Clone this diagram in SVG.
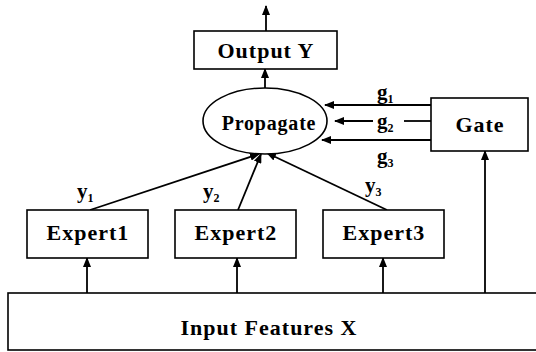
<svg xmlns="http://www.w3.org/2000/svg" width="536" height="352" viewBox="0 0 536 352">
<style>
.box{fill:#fff;stroke:#000;stroke-width:1.6}
.lbl{font-family:"Liberation Serif","Times New Roman",serif;font-weight:bold;fill:#000}
.big{font-size:22px;letter-spacing:1px}
.mid{font-size:20px;letter-spacing:0.8px}
.sym{font-size:21px}
.sub{font-size:12px}
.ln{stroke:#000;stroke-width:1.8;fill:none}
</style>
<defs>
<marker id="arr" markerUnits="userSpaceOnUse" markerWidth="10" markerHeight="8" refX="9" refY="4" orient="auto">
<path d="M0,0 L10,4 L0,8 Z" fill="#000"/>
</marker>
</defs>
<rect width="536" height="352" fill="#fff"/>
<g id="connectors">
<line class="ln" x1="266" y1="31" x2="266" y2="6" marker-end="url(#arr)"/>
<line class="ln" x1="265" y1="88" x2="265" y2="69" marker-end="url(#arr)"/>
<line class="ln" x1="431" y1="105" x2="325" y2="105" marker-end="url(#arr)"/>
<line class="ln" x1="431" y1="121" x2="404" y2="121"/>
<line class="ln" x1="373" y1="121" x2="335" y2="121" marker-end="url(#arr)"/>
<line class="ln" x1="431" y1="140" x2="322" y2="140" marker-end="url(#arr)"/>
<line class="ln" x1="90" y1="210" x2="259" y2="154" marker-end="url(#arr)"/>
<line class="ln" x1="238" y1="210" x2="261" y2="154" marker-end="url(#arr)"/>
<line class="ln" x1="387" y1="210" x2="267" y2="153" marker-end="url(#arr)"/>
<line class="ln" x1="87" y1="293" x2="87" y2="258" marker-end="url(#arr)"/>
<line class="ln" x1="237" y1="293" x2="237" y2="258" marker-end="url(#arr)"/>
<line class="ln" x1="383" y1="293" x2="383" y2="258" marker-end="url(#arr)"/>
<line class="ln" x1="485" y1="293" x2="485" y2="151" marker-end="url(#arr)"/>
<text class="lbl sym" x="377" y="99">g<tspan class="sub" dy="4">1</tspan></text>
<text class="lbl sym" x="377" y="128">g<tspan class="sub" dy="4">2</tspan></text>
<text class="lbl sym" x="377" y="163">g<tspan class="sub" dy="4">3</tspan></text>
<text class="lbl sym" x="77" y="198">y<tspan class="sub" dy="4">1</tspan></text>
<text class="lbl sym" x="203" y="198">y<tspan class="sub" dy="4">2</tspan></text>
<text class="lbl sym" x="365" y="192">y<tspan class="sub" dy="4">3</tspan></text>
</g>
<g id="output">
<rect class="box" x="194" y="31" width="143" height="38"/>
<text class="lbl big" x="266" y="58" text-anchor="middle">Output Y</text>
</g>
<g id="propagate">
<ellipse class="box" cx="265" cy="121" rx="62" ry="33"/>
<text class="lbl mid" x="269" y="130" text-anchor="middle">Propagate</text>
</g>
<g id="gate">
<rect class="box" x="431" y="98" width="97" height="53"/>
<text class="lbl big" x="480" y="132" text-anchor="middle">Gate</text>
</g>
<g id="expert1">
<rect class="box" x="27" y="210" width="121" height="48"/>
<text class="lbl big" x="88" y="240" text-anchor="middle">Expert1</text>
</g>
<g id="expert2">
<rect class="box" x="175" y="210" width="121" height="48"/>
<text class="lbl big" x="236" y="240" text-anchor="middle">Expert2</text>
</g>
<g id="expert3">
<rect class="box" x="323" y="210" width="121" height="48"/>
<text class="lbl big" x="384" y="240" text-anchor="middle">Expert3</text>
</g>
<g id="input">
<rect class="box" x="8" y="293" width="540" height="57"/>
<text class="lbl big" x="269" y="335" text-anchor="middle">Input Features X</text>
</g>
</svg>
